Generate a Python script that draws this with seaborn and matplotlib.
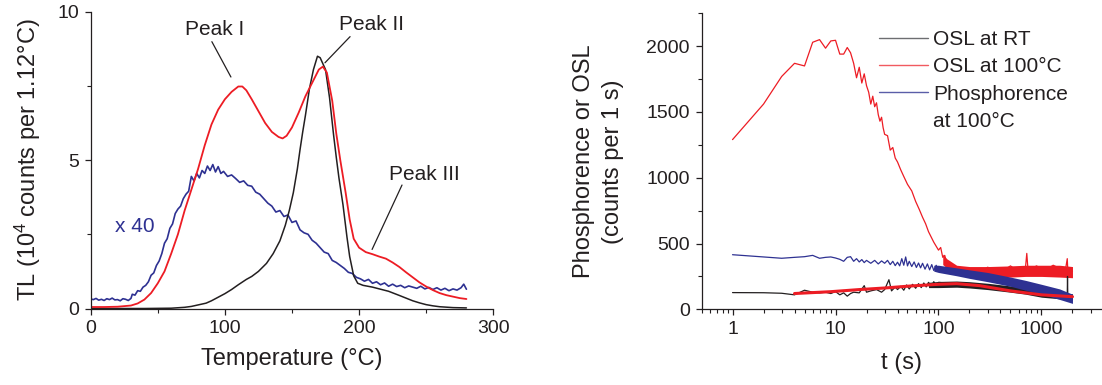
import matplotlib
matplotlib.use("Agg")
import matplotlib.pyplot as plt
from matplotlib.lines import Line2D
from matplotlib.ticker import MultipleLocator, LogLocator, NullFormatter, FixedLocator
import seaborn as sns
import numpy as np

# ---------------- data: left panel (TL glow curves) ----------------
tl_red_T = [0, 10, 20, 30, 35, 40, 45, 50, 55, 60, 65, 70, 75, 80, 85, 90, 95, 100, 105, 110,
            113, 116, 120, 125, 130, 135, 140, 143, 146, 150, 155, 160, 165, 170, 173, 176, 180,
            183, 186, 190, 193, 196, 200, 205, 210, 215, 220, 225, 230, 235, 240, 245, 250, 255,
            260, 265, 270, 275, 280]
tl_red = [0.05, 0.05, 0.06, 0.10, 0.17, 0.30, 0.52, 0.85, 1.25, 1.85, 2.50, 3.30, 4.00, 4.70, 5.50,
          6.20, 6.70, 7.05, 7.30, 7.48, 7.48, 7.35, 7.05, 6.65, 6.25, 5.95, 5.78, 5.73, 5.82, 6.10,
          6.60, 7.15, 7.60, 8.05, 8.15, 7.95, 7.00, 5.90, 5.00, 3.90, 3.00, 2.35, 2.05, 1.90, 1.83,
          1.75, 1.68, 1.55, 1.40, 1.22, 1.05, 0.88, 0.74, 0.62, 0.52, 0.45, 0.40, 0.35, 0.32]

tl_black_T = [0, 20, 40, 60, 70, 75, 80, 86, 90, 95, 100, 105, 110, 116, 120, 125, 131, 136, 141,
              145, 148, 151, 154, 156, 158, 160, 163, 166, 169, 171, 173, 175, 178, 181, 183, 185,
              188, 191, 193, 196, 199, 203, 210, 216, 222, 230, 235, 240, 245, 250, 255, 260, 270, 280]
tl_black = [0, 0, 0, 0.01, 0.04, 0.07, 0.12, 0.18, 0.26, 0.38, 0.50, 0.64, 0.80, 0.98, 1.08, 1.25,
            1.52, 1.85, 2.28, 2.80, 3.30, 3.90, 4.70, 5.35, 5.95, 6.50, 7.40, 8.05, 8.50, 8.45, 8.25,
            8.05, 7.10, 5.85, 5.10, 4.40, 3.50, 2.40, 1.75, 1.10, 0.85, 0.78, 0.72, 0.65, 0.58, 0.44,
            0.35, 0.26, 0.19, 0.13, 0.09, 0.06, 0.03, 0.02]

tl_blue_T = [0, 2, 4, 6, 8, 10, 12, 14, 16, 18, 20, 22, 24, 26, 28, 30, 31, 33, 35, 37, 39, 41, 43,
             45, 47, 49, 51, 53, 55, 57, 59, 61, 63, 65, 67, 69, 71, 73, 75, 77, 79, 81, 83, 85, 87,
             89, 91, 93, 95, 97, 99, 102, 105, 108, 111, 114, 117, 120, 123, 126, 129, 132, 135, 138,
             141, 144, 147, 150, 153, 156, 159, 162, 165, 168, 171, 174, 177, 180, 183, 186, 189, 192,
             195, 198, 201, 204, 207, 210, 213, 216, 219, 222, 225, 228, 231, 234, 237, 240, 243, 246,
             249, 252, 255, 258, 261, 264, 267, 270, 273, 276, 278, 280]
tl_blue_x40 = [0.32, 0.30, 0.34, 0.28, 0.31, 0.27, 0.33, 0.30, 0.35, 0.29, 0.30, 0.26, 0.33, 0.31,
               0.27, 0.34, 0.48, 0.45, 0.60, 0.58, 0.72, 0.78, 0.90, 1.12, 1.20, 1.45, 1.60, 1.85,
               2.20, 2.35, 2.70, 2.85, 3.20, 3.35, 3.45, 3.70, 3.85, 3.95, 4.45, 4.30, 4.55, 4.40,
               4.65, 4.55, 4.80, 4.65, 4.85, 4.60, 4.78, 4.55, 4.62, 4.45, 4.50, 4.38, 4.25, 4.30,
               4.15, 4.12, 3.92, 3.85, 3.70, 3.55, 3.45, 3.25, 3.30, 3.10, 3.15, 2.90, 2.95, 2.65,
               2.55, 2.50, 2.30, 2.20, 2.05, 1.90, 1.85, 1.62, 1.55, 1.45, 1.35, 1.22, 1.18, 1.05,
               1.00, 0.92, 0.98, 0.85, 0.90, 0.80, 0.86, 0.75, 0.82, 0.74, 0.78, 0.70, 0.76, 0.72,
               0.68, 0.75, 0.66, 0.71, 0.64, 0.70, 0.62, 0.68, 0.60, 0.66, 0.62, 0.70, 0.82, 0.65]

# annotation labels (text, text position, line start, line end)
peak_labels = ["Peak I", "Peak II", "Peak III"]
peak_text_xy = [(92, 9.40), (209, 9.58), (249, 4.52)]
peak_line_from = [(90.3, 8.99), (193.3, 9.16), (232, 4.16)]
peak_line_to = [(104.5, 7.80), (174.6, 8.28), (209.7, 1.99)]

# ---------------- data: right panel (OSL / phosphorescence) ----------------
osl100_t = [1, 2, 3, 4, 5, 6, 7, 8, 9, 10, 11, 12, 13, 14, 15, 16, 17, 18, 19, 20, 21, 22, 23, 24,
            25, 26, 27, 28, 29, 30, 32, 34, 36, 38, 40, 43, 46, 50, 55, 60, 65, 70, 75, 80, 90, 100,
            105, 110, 115, 120, 130, 140, 150, 170, 200, 250, 300, 400, 500, 600, 700, 720, 740,
            900, 1000, 1300, 1700, 1780, 1800, 2000]
osl100 = [1290, 1560, 1770, 1870, 1850, 2030, 2050, 1985, 2040, 2045, 1940, 1940, 1990, 1950, 1870,
          1760, 1840, 1720, 1790, 1700, 1650, 1560, 1620, 1540, 1570, 1480, 1430, 1460, 1380, 1330,
          1320, 1210, 1230, 1150, 1120, 1060, 1010, 950, 900, 820, 760, 700, 650, 590, 510, 450,
          470, 395, 410, 350, 345, 300, 320, 285, 310, 275, 320, 280, 330, 285, 320, 425, 300,
          330, 280, 335, 290, 385, 300, 290]
osl100_band_t = [110, 120, 150, 200, 300, 500, 700, 1000, 1500, 2000]
osl100_band_lo = [340, 315, 265, 250, 245, 245, 250, 250, 245, 240]
osl100_band_hi = [420, 385, 335, 325, 325, 330, 335, 335, 335, 325]

oslrt_t = [1, 2, 3, 4, 5, 6, 7, 8, 9, 10, 11, 12, 13, 14, 15, 17, 19, 20, 22, 25, 28, 30, 33, 35,
           38, 40, 43, 46, 49, 52, 56, 60, 64, 68, 72, 76, 80, 85, 90, 95, 100, 150, 200, 300, 500,
           1000, 1700, 1780, 1790, 1800, 2000]
oslrt = [127, 126, 122, 110, 145, 130, 125, 130, 120, 135, 110, 125, 100, 120, 130, 125, 180, 130,
         140, 150, 130, 150, 225, 140, 170, 150, 175, 145, 185, 155, 190, 160, 195, 165, 200, 170,
         205, 172, 210, 178, 205, 192, 185, 172, 150, 110, 100, 110, 250, 110, 95]
oslrt_band_t = [80, 100, 150, 200, 300, 500, 700, 1000, 1500, 2000]
oslrt_band_lo = [165, 165, 168, 162, 150, 130, 115, 92, 80, 70]
oslrt_band_hi = [205, 212, 215, 210, 198, 178, 162, 140, 128, 118]

phos_t = [1, 2, 3, 4, 5, 6, 7, 8, 9, 10, 11, 12, 13, 14, 15, 16, 17, 18, 19, 20, 22, 24, 26, 28, 30,
          32, 34, 36, 38, 40, 42, 44, 46, 48, 50, 52, 55, 58, 61, 64, 67, 70, 74, 78, 82, 86, 90,
          95, 100, 150, 200, 300, 500, 1000, 2000]
phos = [415, 398, 388, 395, 400, 410, 388, 395, 398, 390, 380, 365, 395, 400, 365, 385, 360, 378,
        355, 372, 350, 372, 345, 368, 350, 372, 340, 365, 332, 358, 330, 385, 335, 398, 330, 365,
        325, 360, 318, 352, 315, 350, 305, 345, 300, 340, 295, 335, 290, 290, 270, 245, 210, 155, 75]
phos_band_t = [90, 100, 150, 200, 300, 500, 700, 1000, 1500, 2000]
phos_band_lo = [290, 280, 255, 235, 210, 175, 145, 115, 75, 45]
phos_band_hi = [335, 335, 315, 300, 280, 245, 220, 190, 155, 115]

fit_t = [4, 9, 17, 30, 53, 100, 150, 250, 500, 1000, 2000]
fit = [120, 134, 150, 162, 177, 190, 195, 180, 140, 110, 96]

legend_labels = ["OSL at RT", "OSL at 100°C", "Phosphorence", "at 100°C"]

# ---------------- style ----------------
RED = "#ED1C24"
BLUE = "#2E3192"
BLACK = "#231F20"

sns.set_theme(style="ticks")
plt.rcParams["font.family"] = ["Liberation Sans", "DejaVu Sans"]
plt.rcParams["mathtext.fontset"] = "custom"
plt.rcParams["mathtext.rm"] = "Liberation Sans"
plt.rcParams["mathtext.default"] = "regular"
plt.rcParams["axes.edgecolor"] = BLACK
plt.rcParams["axes.linewidth"] = 0.9
plt.rcParams["xtick.color"] = BLACK
plt.rcParams["ytick.color"] = BLACK
plt.rcParams["text.color"] = BLACK
plt.rcParams["axes.labelcolor"] = BLACK

TICK_FS = 14
LABEL_FS = 17
ANN_FS = 15

fig = plt.figure(figsize=(11.02, 3.85), dpi=100)
ax1 = fig.add_axes([0.0823, 0.1987, 0.3653, 0.7709])
ax2 = fig.add_axes([0.6366, 0.1966, 0.3634, 0.7688])

# ---------------- left panel ----------------
sns.lineplot(x=tl_blue_T, y=tl_blue_x40, ax=ax1, color=BLUE, lw=1.2, estimator=None, sort=False)
sns.lineplot(x=tl_black_T, y=tl_black, ax=ax1, color=BLACK, lw=1.1, estimator=None, sort=False)
sns.lineplot(x=tl_red_T, y=tl_red, ax=ax1, color=RED, lw=1.3, estimator=None, sort=False)

ax1.set_xlim(0, 300)
ax1.set_ylim(0, 10)
ax1.xaxis.set_major_locator(MultipleLocator(100))
ax1.xaxis.set_minor_locator(MultipleLocator(50))
ax1.yaxis.set_major_locator(MultipleLocator(5))
ax1.yaxis.set_minor_locator(MultipleLocator(2.5))
ax1.set_xlabel("Temperature (°C)", fontsize=LABEL_FS, labelpad=8)
ax1.set_ylabel("TL (10$^4$ counts per 1.12°C)", fontsize=LABEL_FS, labelpad=10)

for lab, txy, p0, p1 in zip(peak_labels, peak_text_xy, peak_line_from, peak_line_to):
    ax1.text(txy[0], txy[1], lab, fontsize=ANN_FS, ha="center", va="center", color=BLACK)
    ax1.annotate("", xy=p1, xytext=p0,
                 arrowprops=dict(arrowstyle="-", color=BLACK, lw=0.9, shrinkA=0, shrinkB=0))
ax1.text(33, 2.75, "x 40", fontsize=ANN_FS, ha="center", va="center", color=BLUE)

# ---------------- right panel ----------------
ax2.set_xscale("log")
ax2.fill_between(osl100_band_t, osl100_band_lo, osl100_band_hi, color=RED, lw=0, zorder=1)
sns.lineplot(x=osl100_t, y=osl100, ax=ax2, color=RED, lw=0.9, estimator=None, sort=False, zorder=2)
ax2.fill_between(oslrt_band_t, oslrt_band_lo, oslrt_band_hi, color=BLACK, lw=0, zorder=3)
sns.lineplot(x=oslrt_t, y=oslrt, ax=ax2, color=BLACK, lw=0.9, estimator=None, sort=False, zorder=4)
ax2.fill_between(phos_band_t, phos_band_lo, phos_band_hi, color=BLUE, lw=0, zorder=5)
sns.lineplot(x=phos_t, y=phos, ax=ax2, color=BLUE, lw=0.9, estimator=None, sort=False, zorder=6)
sns.lineplot(x=fit_t, y=fit, ax=ax2, color=RED, lw=2.2, estimator=None, sort=False, zorder=7)

ax2.set_xlim(0.5, 3870)
ax2.set_ylim(0, 2250)
ax2.xaxis.set_major_locator(FixedLocator([1, 10, 100, 1000]))
ax2.xaxis.set_minor_locator(LogLocator(base=10, subs=np.arange(2, 10), numticks=20))
ax2.xaxis.set_minor_formatter(NullFormatter())
ax2.set_xticklabels(["1", "10", "100", "1000"])
ax2.yaxis.set_major_locator(MultipleLocator(500))
ax2.yaxis.set_minor_locator(MultipleLocator(250))
ax2.set_xlabel("t (s)", fontsize=LABEL_FS, labelpad=10)
ax2.set_ylabel("Phosphorence or OSL\n(counts per 1 s)", fontsize=LABEL_FS, labelpad=16,
               linespacing=1.4)

handles = [Line2D([], [], color="#6D6E71", lw=1.0),
           Line2D([], [], color="#F15A60", lw=1.0),
           Line2D([], [], color="#5A5EA8", lw=1.0),
           Line2D([], [], color="none", lw=0)]
leg = ax2.legend(handles, legend_labels, loc="upper left",
                 bbox_to_anchor=(879 / 1102, 1 - 30 / 385), bbox_transform=fig.transFigure,
                 frameon=False, fontsize=ANN_FS, borderpad=0, borderaxespad=0,
                 handlelength=2.35, handletextpad=0.25, labelspacing=0.4)

for ax in (ax1, ax2):
    sns.despine(ax=ax)
    ax.tick_params(axis="both", which="major", direction="out", length=4.5, width=0.9,
                   labelsize=TICK_FS, pad=4)
    ax.tick_params(axis="both", which="minor", direction="out", length=3, width=0.8)
    ax.spines["left"].set_linewidth(0.9)
    ax.spines["bottom"].set_linewidth(0.9)

fig.savefig("out.png", dpi=100)
